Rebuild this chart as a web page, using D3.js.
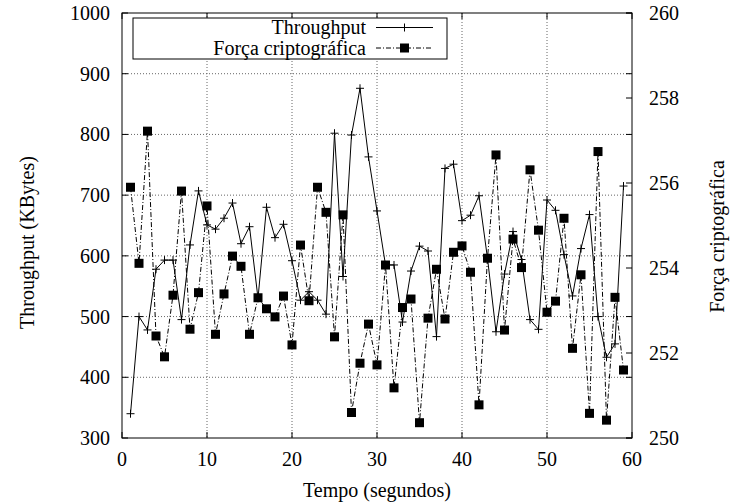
<!DOCTYPE html>
<html>
<head>
<meta charset="utf-8">
<script src="https://cdn.jsdelivr.net/npm/d3@7"></script>
<style>
  html, body { margin: 0; padding: 0; background: #fff; }
  svg text { font-family: "Liberation Serif", "Times New Roman", Times, serif; font-size: 20px; fill: #000; }
</style>
</head>
<body>
<svg id="chart" width="730" height="503" font-family="Liberation Serif, serif" font-size="20"></svg>
<script>
const time = d3.range(1, 60);
const throughput = [340, 500, 478, 578, 593, 593, 495, 618, 707, 651, 644, 662, 687, 620, 648, 530, 680, 630, 652, 592,
  527, 541, 527, 504, 802, 566, 799, 876, 763, 674, 585, 585, 491, 575, 616, 608, 467, 744, 751, 658,
  667, 699, 596, 475, 570, 640, 594, 495, 479, 692, 675, 602, 534, 612, 668, 500, 433, 455, 715];
const forca = [255.9, 254.11, 257.22, 252.4, 251.91, 253.36, 255.81, 252.56, 253.42, 255.46, 252.44, 253.39, 254.28, 254.04,
  252.44, 253.30, 253.04, 252.85, 253.34, 252.19, 254.54, 253.23, 255.9, 255.31, 252.38, 255.25, 250.6, 251.76,
  252.68, 251.72, 254.07, 251.18, 253.07, 253.27, 250.36, 252.82, 253.97, 252.8, 254.37, 254.52, 253.9, 250.78,
  254.23, 256.66, 252.54, 254.68, 254.01, 256.31, 254.89, 252.96, 253.22, 255.17, 252.11, 253.84, 250.58, 256.74,
  250.42, 253.31, 251.6];
const xTicks = [0, 10, 20, 30, 40, 50, 60];
const yTicks = [300, 400, 500, 600, 700, 800, 900, 1000];
const y2Ticks = [250, 252, 254, 256, 258, 260];
const seriesNames = ["Throughput", "Força criptográfica"];
const xTitle = "Tempo (segundos)";
const yTitle = "Throughput (KBytes)";
const y2Title = "Força criptográfica";

const FONT = "'Liberation Serif', 'Times New Roman', serif";
const L = 122, R = 632, T = 13, B = 438;
const svg = d3.select("#chart");
const x = d3.scaleLinear().domain([0, 60]).range([L, R]);
const y = d3.scaleLinear().domain([300, 1000]).range([B, T]);
const y2 = d3.scaleLinear().domain([250, 260]).range([B, T]);
const tick = 6;

function txt(g) {
  return g.append("text").attr("font-family", FONT).attr("font-size", 20).attr("fill", "#000");
}

// grid
const grid = svg.append("g").attr("stroke", "#666").attr("stroke-width", 1).attr("stroke-dasharray", "1,2");
xTicks.filter(d => d > 0 && d < 60).forEach(d => {
  grid.append("line").attr("x1", x(d)).attr("x2", x(d)).attr("y1", T).attr("y2", B);
});
yTicks.filter(d => d > 300 && d < 1000).forEach(d => {
  grid.append("line").attr("x1", L).attr("x2", R).attr("y1", y(d)).attr("y2", y(d));
});

// ticks
const tk = svg.append("g").attr("stroke", "#000").attr("stroke-width", 1);
xTicks.forEach(d => {
  tk.append("line").attr("x1", x(d)).attr("x2", x(d)).attr("y1", B).attr("y2", B - tick);
  tk.append("line").attr("x1", x(d)).attr("x2", x(d)).attr("y1", T).attr("y2", T + tick);
});
yTicks.forEach(d => {
  tk.append("line").attr("x1", L).attr("x2", L + tick).attr("y1", y(d)).attr("y2", y(d));
  tk.append("line").attr("x1", R).attr("x2", R - tick).attr("y1", y(d)).attr("y2", y(d));
});
y2Ticks.forEach(d => {
  tk.append("line").attr("x1", R).attr("x2", R - tick).attr("y1", y2(d)).attr("y2", y2(d));
});

// tick labels
const tl = svg.append("g");
xTicks.forEach(d => txt(tl).attr("x", x(d)).attr("y", 466).attr("text-anchor", "middle").text(d));
yTicks.forEach(d => txt(tl).attr("x", 110).attr("y", y(d)).attr("dy", "0.35em").attr("text-anchor", "end").text(d));
y2Ticks.forEach(d => txt(tl).attr("x", 649).attr("y", y2(d)).attr("dy", "0.35em").attr("text-anchor", "start").text(d));

// titles
txt(svg).attr("x", 377).attr("y", 497).attr("text-anchor", "middle").text(xTitle);
txt(svg).attr("transform", `translate(34,${(T + B) / 2 + 17}) rotate(-90)`).attr("text-anchor", "middle").text(yTitle);
txt(svg).attr("font-size", 23).attr("transform", `translate(724,${(T + B) / 2 + 11}) rotate(-90)`).attr("text-anchor", "middle").text(y2Title);

// series
const dashDot = "5,2,1,2";
const tpLine = d3.line().x((d, i) => x(time[i])).y(d => y(d));
const fcLine = d3.line().x((d, i) => x(time[i])).y(d => y2(d));

svg.append("path").datum(forca).attr("d", fcLine).attr("fill", "none").attr("stroke", "#000")
  .attr("stroke-width", 1).attr("stroke-dasharray", dashDot);
svg.append("path").datum(throughput).attr("d", tpLine).attr("fill", "none").attr("stroke", "#000").attr("stroke-width", 1);

const plusSize = 4;
function plus(g, cx, cy) {
  g.append("line").attr("x1", cx - plusSize).attr("x2", cx + plusSize).attr("y1", cy).attr("y2", cy);
  g.append("line").attr("x1", cx).attr("x2", cx).attr("y1", cy - plusSize).attr("y2", cy + plusSize);
}
const sq = 9;
svg.append("g").selectAll("rect").data(forca).join("rect")
  .attr("x", (d, i) => x(time[i]) - sq / 2).attr("y", d => y2(d) - sq / 2)
  .attr("width", sq).attr("height", sq).attr("fill", "#000");
const pg = svg.append("g").attr("stroke", "#000").attr("stroke-width", 1);
throughput.forEach((d, i) => plus(pg, x(time[i]), y(d)));

// border
svg.append("rect").attr("x", L).attr("y", T).attr("width", R - L).attr("height", B - T)
  .attr("fill", "none").attr("stroke", "#000").attr("stroke-width", 1);

// legend
const lg = svg.append("g");
lg.append("rect").attr("x", 133).attr("y", 18).attr("width", 314).attr("height", 41)
  .attr("fill", "#fff").attr("stroke", "#000").attr("stroke-width", 1);
const rows = [27.5, 48];
seriesNames.forEach((name, i) => {
  txt(lg).attr("x", 366).attr("y", rows[i]).attr("dy", "0.33em").attr("text-anchor", "end").text(name);
  lg.append("line").attr("x1", 376).attr("x2", 433).attr("y1", rows[i]).attr("y2", rows[i])
    .attr("stroke", "#000").attr("stroke-width", 1).attr("stroke-dasharray", i === 1 ? dashDot : null);
});
const lp = lg.append("g").attr("stroke", "#000").attr("stroke-width", 1);
plus(lp, 404.5, rows[0]);
lg.append("rect").attr("x", 404.5 - sq / 2).attr("y", rows[1] - sq / 2).attr("width", sq).attr("height", sq).attr("fill", "#000");
</script>
</body>
</html>
